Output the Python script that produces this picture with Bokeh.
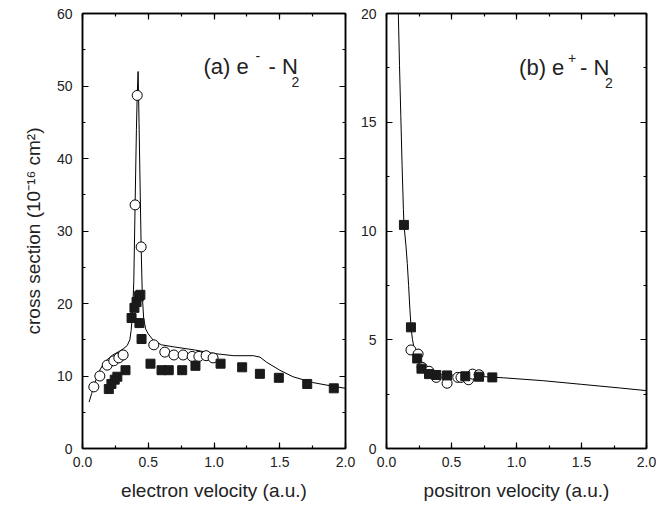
import numpy as np
from bokeh.plotting import figure
from bokeh.layouts import row
from bokeh.models import (Range1d, SingleIntervalTicker, LinearAxis,
                          NumeralTickFormatter, CustomJSTickFormatter, Label)
from bokeh.embed import file_html
from bokeh.resources import INLINE

# ---------------- Panel (a): e- - N2 ----------------
a_curve_x = [0.05, 0.07, 0.09, 0.12, 0.15, 0.19, 0.23, 0.27, 0.31, 0.34, 0.36, 0.37, 0.38,
             0.39, 0.40, 0.41, 0.416, 0.423, 0.43, 0.44, 0.446, 0.455, 0.465, 0.48, 0.50,
             0.54, 0.60, 0.70, 0.85, 1.00, 1.15, 1.30, 1.35, 1.40, 1.50, 1.60, 1.75, 1.90, 2.00]
a_curve_y = [6.4, 7.6, 8.8, 10.4, 11.4, 12.3, 12.9, 13.3, 13.75, 14.2, 15.0, 16.3, 18.5,
             23.0, 33.6, 44.0, 48.7, 52.0, 45.0, 34.0, 27.8, 21.0, 18.0, 16.5, 15.8,
             14.9, 14.3, 14.0, 13.6, 13.1, 12.8, 12.8, 12.6, 11.9, 10.8, 9.9, 9.1, 8.6, 8.3]

a_open_x = [0.086, 0.132, 0.188, 0.238, 0.276, 0.309, 0.400, 0.416, 0.446, 0.542, 0.626,
            0.695, 0.765, 0.834, 0.885, 0.940, 0.993]
a_open_y = [8.5, 10.0, 11.5, 12.1, 12.5, 12.9, 33.6, 48.7, 27.8, 14.3, 13.3,
            12.9, 12.9, 12.7, 12.7, 12.8, 12.5]

a_solid_x = [0.200, 0.220, 0.245, 0.265, 0.327, 0.373, 0.395, 0.411, 0.428, 0.440, 0.433,
             0.449, 0.517, 0.601, 0.656, 0.758, 0.859, 1.050, 1.214, 1.349, 1.493, 1.709, 1.911]
a_solid_y = [8.2, 8.9, 9.5, 9.9, 10.8, 18.0, 19.4, 20.2, 21.0, 21.2, 17.3,
             15.1, 11.7, 10.8, 10.8, 10.8, 11.4, 11.7, 11.2, 10.3, 9.75, 8.9, 8.3]

# ---------------- Panel (b): e+ - N2 ----------------
b_curve_x = [0.091, 0.10, 0.11, 0.12, 0.13, 0.134, 0.15, 0.16, 0.17, 0.18, 0.19, 0.20, 0.22,
             0.25, 0.30, 0.40, 0.50, 0.70, 0.90, 1.20, 1.50, 1.80, 2.00]
b_curve_y = [20.0, 17.6, 15.3, 13.0, 11.0, 10.3, 9.3, 8.5, 7.5, 6.4, 5.5, 5.0, 4.4,
             3.9, 3.55, 3.42, 3.38, 3.32, 3.25, 3.12, 2.95, 2.78, 2.66]

b_open_x = [0.188, 0.243, 0.274, 0.327, 0.383, 0.466, 0.548, 0.573, 0.631, 0.662, 0.712]
b_open_y = [4.53, 4.34, 3.73, 3.55, 3.27, 3.00, 3.27, 3.27, 3.16, 3.42, 3.39]

b_solid_x = [0.134, 0.188, 0.236, 0.269, 0.327, 0.383, 0.466, 0.606, 0.712, 0.814]
b_solid_y = [10.28, 5.57, 4.14, 3.67, 3.42, 3.38, 3.36, 3.32, 3.30, 3.27]

x_labels = ["electron velocity (a.u.)", "positron velocity (a.u.)"]
y_label = "cross section (10\u207b\u00b9\u2076 cm\u00b2)"

FONT = "Liberation Sans"
FRAME_W = 263
FRAME_H = 435
TOP = 13
BOTTOM = 59


def style_axis(ax, fmt=None, labels=True):
    ax.axis_line_color = "black"
    ax.axis_line_width = 1.5
    ax.major_tick_in = 6
    ax.major_tick_out = 0
    ax.minor_tick_in = 3
    ax.minor_tick_out = 0
    ax.major_tick_line_color = "black"
    ax.minor_tick_line_color = "black"
    ax.major_tick_line_width = 1.2
    ax.minor_tick_line_width = 1.2
    ax.major_label_text_font = FONT
    ax.major_label_text_font_size = "14px"
    ax.major_label_text_color = "#222222"
    ax.axis_label_text_font = FONT
    ax.axis_label_text_font_size = "19px"
    ax.axis_label_text_font_style = "normal"
    ax.axis_label_text_color = "#222222"
    if labels:
        if fmt is not None:
            ax.formatter = fmt
    else:
        ax.formatter = CustomJSTickFormatter(code="return ''")
        ax.major_label_standoff = 0


def make_panel(ymax, yint, xlab, ylab, bl, br, curve, opens, solids):
    p = figure(width=bl + FRAME_W + br, height=TOP + FRAME_H + BOTTOM,
               x_range=Range1d(0, 2), y_range=Range1d(0, ymax),
               output_backend="svg", toolbar_location=None,
               min_border_left=bl, min_border_right=br,
               min_border_top=TOP, min_border_bottom=BOTTOM,
               x_axis_type=None, y_axis_type=None)
    p.xgrid.visible = False
    p.ygrid.visible = False
    p.outline_line_color = "black"
    p.outline_line_width = 1.5
    p.background_fill_color = "white"
    p.border_fill_color = "white"

    xt = SingleIntervalTicker(interval=0.5, num_minor_ticks=2)
    yt = SingleIntervalTicker(interval=yint, num_minor_ticks=2)

    xb = LinearAxis(ticker=xt, axis_label=xlab)
    style_axis(xb, NumeralTickFormatter(format="0.0"))
    xb.major_label_standoff = 8
    xb.axis_label_standoff = 10
    p.add_layout(xb, "below")

    yl = LinearAxis(ticker=yt, axis_label=ylab)
    style_axis(yl, NumeralTickFormatter(format="0"))
    yl.major_label_standoff = 10
    yl.axis_label_standoff = 10
    p.add_layout(yl, "left")

    xa = LinearAxis(ticker=SingleIntervalTicker(interval=0.5, num_minor_ticks=2))
    style_axis(xa, labels=False)
    p.add_layout(xa, "above")

    yr = LinearAxis(ticker=SingleIntervalTicker(interval=yint, num_minor_ticks=2))
    style_axis(yr, labels=False)
    p.add_layout(yr, "right")

    p.line(curve[0], curve[1], line_color="black", line_width=1)
    p.scatter(opens[0], opens[1], marker="circle", size=10,
              fill_color="white", line_color="black", line_width=1)
    p.scatter(solids[0], solids[1], marker="square", size=9,
              fill_color="#1a1a1a", line_color="#1a1a1a", line_width=1)
    return p


p1 = make_panel(60, 10, x_labels[0], y_label, 82, 12,
                (a_curve_x, a_curve_y), (a_open_x, a_open_y), (a_solid_x, a_solid_y))
p2 = make_panel(20, 5, x_labels[1], None, 26, 10,
                (b_curve_x, b_curve_y), (b_open_x, b_open_y), (b_solid_x, b_solid_y))


def add_title(p, x, y, head, sup, sup_dx, sup_dy, sub_dx, tail_dx):
    common = dict(x=x, y=y, text_font=FONT, text_color="#222222",
                  text_baseline="alphabetic", text_align="left")
    p.add_layout(Label(text=head, text_font_size="22px", **common))
    p.add_layout(Label(text=sup, text_font_size="14px", x_offset=sup_dx,
                       y_offset=sup_dy, **common))
    p.add_layout(Label(text="- N", text_font_size="22px", x_offset=tail_dx, **common))
    p.add_layout(Label(text="2", text_font_size="14px", x_offset=sub_dx,
                       y_offset=-16, **common))


add_title(p1, 0.92, 52.7, "(a) e", "-", 52, 10, 88, 65)
add_title(p2, 1.02, 17.52, "(b) e", "+", 49, 9, 86, 61)

layout = row(p1, p2)
open("out.html", "w").write(file_html(layout, INLINE))
